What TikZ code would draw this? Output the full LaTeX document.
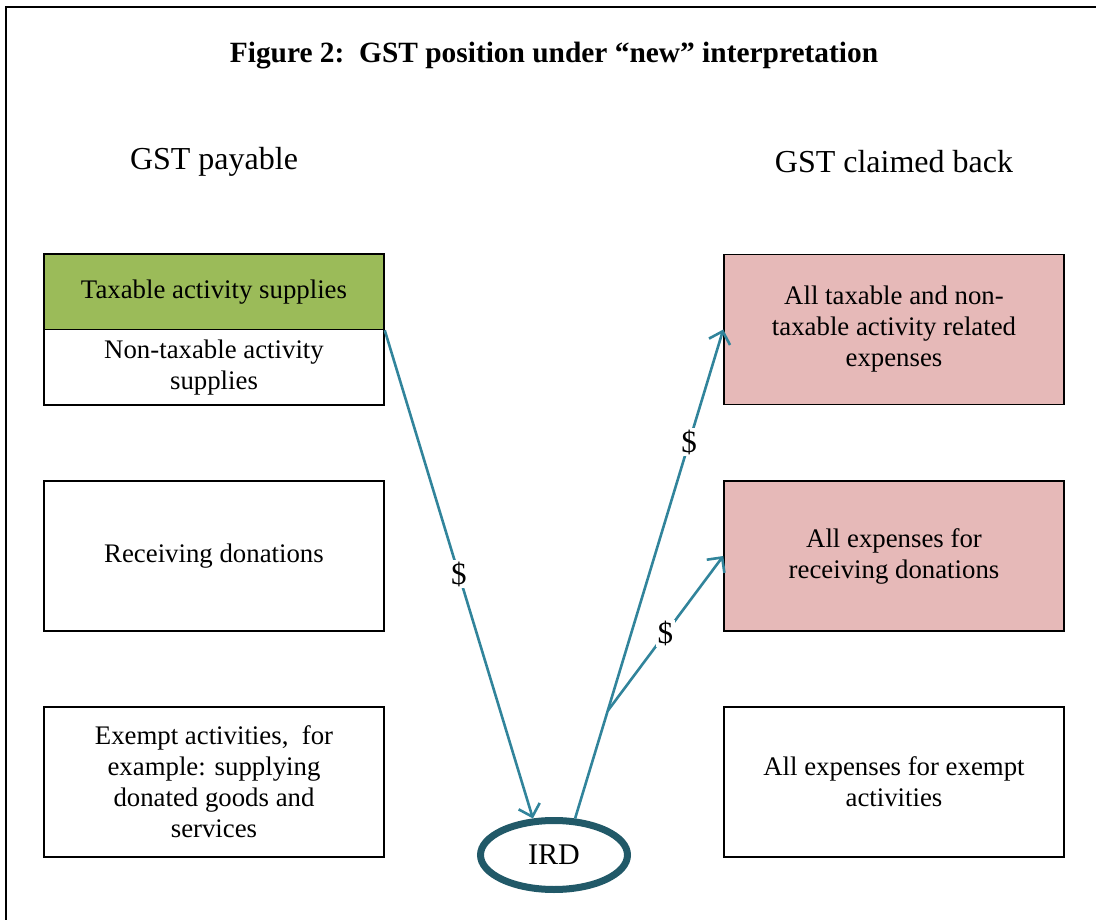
\documentclass[tikz,border=0pt]{standalone}
\usepackage{fontspec}
\setmainfont{Liberation Serif}
\usepackage{xcolor}
\usetikzlibrary{shapes.geometric,arrows.meta}
\definecolor{taxgreen}{HTML}{9BBB59}
\definecolor{claimpink}{HTML}{E6B9B8}
\definecolor{flowteal}{HTML}{31849B}
\definecolor{irdteal}{HTML}{215968}

\begin{document}
\begin{tikzpicture}[x=1pt, y=-1pt,
  box/.style={draw=black, line width=1.5pt, minimum width=340pt, minimum height=150pt, inner sep=0pt, align=center, font=\fontsize{26.8}{31}\selectfont},
  halfbox/.style={box, minimum height=75.5pt},
  head/.style={font=\fontsize{32}{36}\selectfont},
  flow/.style={draw=flowteal, line width=2.6pt, -{Straight Barb[length=11pt,width=22pt]}},
  dollar/.style={fill=white, inner sep=1.5pt, font=\fontsize{31}{33}\selectfont}]
  \useasboundingbox (0,0) rectangle (1096,920);
  \draw[line width=2.5pt] (6,920) -- (6,7) -- (1096,7);
  \node[font=\fontsize{29.4}{32}\selectfont\bfseries] (title) at (554,56) {Figure 2:\ \ GST position under “new” interpretation};
  \node[head] (payable) at (214,162) {GST payable};
  \node[head] (claimed) at (894,162) {GST claimed back};

  \node[halfbox, fill=taxgreen] (taxable) at (214,291.75) {Taxable activity supplies};
  \node[halfbox] (nontaxable) at (214,367.25) {Non-taxable activity\\supplies};
  \node[box] (donations) at (214,556) {Receiving donations};
  \node[box] (exempt) at (214,782) {Exempt activities,\ \ for\\example: supplying\\donated goods and\\services};

  \node[box, fill=claimpink] (allclaims) at (894,329.5) {All taxable and non-\\taxable activity related\\expenses};
  \node[box, fill=claimpink] (donclaims) at (894,556) {All expenses for\\receiving donations};
  \node[box] (exemptclaims) at (894,782) {All expenses for exempt\\activities};

  \node[ellipse, draw=irdteal, line width=7pt, minimum width=147pt, minimum height=69pt, inner sep=0pt, font=\fontsize{30}{34}\selectfont] (IRD) at (554,855) {IRD};

  \draw[flow] (taxable.south east) -- node[dollar, pos=0.5] {\$} (IRD.120);
  \draw[flow] (IRD.60) -- coordinate[pos=0.22] (fork) node[dollar, pos=0.77] {\$} (allclaims.west);
  \draw[flow] (fork) -- node[dollar, pos=0.5] {\$} (donclaims.west);
\end{tikzpicture}
\end{document}
